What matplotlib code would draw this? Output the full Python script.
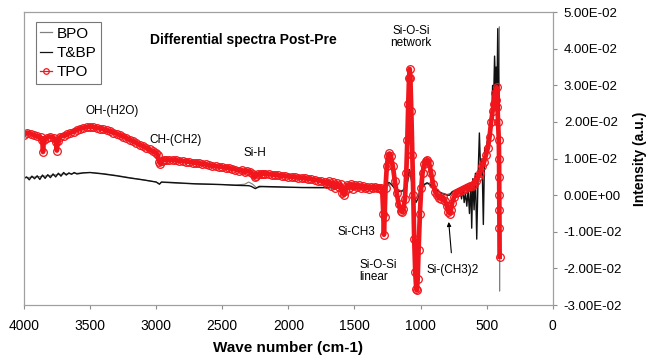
import matplotlib
matplotlib.use("Agg")
import matplotlib.pyplot as plt
from matplotlib.ticker import FuncFormatter, MultipleLocator

plt.rcParams['font.family'] = ['Liberation Sans', 'DejaVu Sans']

# ---------------- data ----------------
tpo_wn = [4000, 3975, 3950, 3925, 3900, 3875, 3862, 3856, 3850, 3825, 3800, 3775, 3757, 3751, 3745,
          3725, 3700, 3675, 3650, 3625, 3600, 3575, 3550, 3525, 3500, 3475, 3450, 3425, 3400, 3375,
          3350, 3325, 3300, 3275, 3250, 3225, 3200, 3175, 3150, 3125, 3100, 3075, 3050, 3025, 3000,
          2988, 2978, 2968, 2958, 2940, 2925, 2900, 2875, 2850, 2825, 2800, 2775, 2750, 2725, 2700,
          2675, 2650, 2625, 2600, 2575, 2550, 2525, 2500, 2475, 2450, 2425, 2400, 2375, 2350, 2330,
          2310, 2290, 2270, 2255, 2245, 2230, 2210, 2190, 2175, 2150, 2125, 2100, 2075, 2050, 2025,
          2000, 1975, 1950, 1925, 1900, 1875, 1850, 1825, 1800, 1775, 1750, 1725, 1710, 1695, 1680,
          1665, 1650, 1635, 1620, 1605, 1592, 1580, 1568, 1556, 1540, 1525, 1510, 1495, 1480, 1465,
          1450, 1435, 1420, 1405, 1390, 1375, 1360, 1345, 1330, 1315, 1300, 1290, 1282, 1277, 1272,
          1265, 1255, 1245, 1235, 1225, 1210, 1195, 1180, 1165, 1150, 1140, 1130, 1118, 1108, 1100,
          1093, 1087, 1082, 1077, 1070, 1062, 1055, 1048, 1040, 1033, 1028, 1022, 1015, 1005, 995,
          985, 972, 960, 948, 935, 920, 905, 890, 875, 860, 845, 830, 815, 800, 790,
          780, 770, 760, 745, 730, 715, 700, 685, 670, 655, 640, 625, 610, 595, 580,
          565, 550, 535, 520, 505, 490, 478, 466, 455, 445, 437, 430, 424, 418, 413,
          408, 406, 405, 404, 403.5, 403, 402]
tpo_val = [0.0165, 0.0171, 0.0168, 0.0164, 0.0161, 0.0158, 0.0152, 0.0118, 0.0150, 0.0157, 0.0160, 0.0157, 0.0145, 0.0122, 0.0147,
           0.0160, 0.0163, 0.0166, 0.0170, 0.0174, 0.0178, 0.0181, 0.0184, 0.0186, 0.0187, 0.0186, 0.0184, 0.0182, 0.0180, 0.0177,
           0.0175, 0.0171, 0.0168, 0.0164, 0.0160, 0.0156, 0.0152, 0.0147, 0.0143, 0.0138, 0.0134, 0.0129, 0.0125, 0.0120, 0.0116,
           0.0110, 0.0092, 0.0086, 0.0094, 0.0097, 0.0097, 0.0096, 0.0096, 0.0095, 0.0094, 0.0093, 0.0092, 0.0091, 0.0089, 0.0088,
           0.0087, 0.0085, 0.0084, 0.0082, 0.0080, 0.0079, 0.0078, 0.0077, 0.0075, 0.0074, 0.0072, 0.0070, 0.0067, 0.0068, 0.0064,
           0.0066, 0.0064, 0.0058, 0.0049, 0.0052, 0.0058, 0.0059, 0.0059, 0.0058, 0.0058, 0.0056, 0.0055, 0.0054, 0.0053, 0.0052,
           0.0051, 0.0050, 0.0049, 0.0048, 0.0047, 0.0046, 0.0045, 0.0043, 0.0042, 0.0040, 0.0038, 0.0035, 0.0031, 0.0038, 0.0026,
           0.0035, 0.0020, 0.0033, 0.0022, 0.0030, 0.0006, 0.0001, 0.0012, 0.0028, 0.0020, 0.0030, 0.0018, 0.0028, 0.0022, 0.0027,
           0.0021, 0.0025, 0.0019, 0.0023, 0.0018, 0.0022, 0.0020, 0.0022, 0.0019, 0.0021, 0.0020, 0.0015, -0.0050, -0.0108, -0.0060,
           0.0020, 0.0080, 0.0108, 0.0114, 0.0108, 0.0080, 0.0040, 0.0005, -0.0025, -0.0042, -0.0046, -0.0038, -0.0010, 0.0060, 0.0150,
           0.0250, 0.0320, 0.0345, 0.0320, 0.0230, 0.0110, 0.0000, -0.0120, -0.0210, -0.0255, -0.0260, -0.0230, -0.0150, -0.0050, 0.0020,
           0.0060, 0.0085, 0.0094, 0.0096, 0.0088, 0.0060, 0.0030, 0.0010, 0.0000, -0.0008, -0.0010, -0.0005, -0.0015, -0.0030, -0.0045,
           -0.0050, -0.0040, -0.0020, -0.0005, 0.0005, 0.0010, 0.0012, 0.0015, 0.0018, 0.0020, 0.0022, 0.0024, 0.0025, 0.0030, 0.0040,
           0.0050, 0.0060, 0.0080, 0.0090, 0.0110, 0.0130, 0.0160, 0.0200, 0.0230, 0.0250, 0.0280, 0.0260, 0.0295, 0.0240, 0.0200,
           0.0150, 0.0100, 0.0050, 0.0000, -0.0040, -0.0090, -0.0168]

tbp_wn = [4000, 3980, 3960, 3940, 3920, 3900, 3880, 3860, 3840, 3820, 3800, 3780, 3760, 3740, 3720,
          3700, 3680, 3660, 3640, 3620, 3600, 3550, 3500, 3450, 3400, 3300, 3200, 3100, 3000, 2975,
          2960, 2900, 2800, 2700, 2600, 2500, 2400, 2300, 2280, 2250, 2220, 2100, 2000, 1900, 1800,
          1700, 1600, 1500, 1400, 1300, 1280, 1260, 1240, 1220, 1200, 1160, 1130, 1100, 1085, 1075,
          1060, 1045, 1035, 1020, 1000, 970, 950, 930, 900, 870, 840, 800, 780, 760, 740,
          720, 700, 690, 680, 670, 660, 650, 640, 630, 620, 613, 605, 595, 585, 575,
          565, 555, 545, 535, 525, 515, 505, 495, 485, 475, 465, 455, 448, 440, 433,
          428, 422, 416, 410, 405]
tbp_val = [0.0046, 0.0050, 0.0042, 0.0052, 0.0045, 0.0053, 0.0043, 0.0055, 0.0046, 0.0056, 0.0048, 0.0058, 0.0050, 0.0060, 0.0052,
           0.0062, 0.0055, 0.0061, 0.0057, 0.0062, 0.0058, 0.0061, 0.0062, 0.0060, 0.0058, 0.0053, 0.0047, 0.0042, 0.0036, 0.0030,
           0.0036, 0.0035, 0.0033, 0.0031, 0.0030, 0.0029, 0.0027, 0.0026, 0.0024, 0.0018, 0.0024, 0.0023, 0.0022, 0.0021, 0.0021,
           0.0021, 0.0020, 0.0019, 0.0018, 0.0018, 0.0010, 0.0025, 0.0035, 0.0030, 0.0020, 0.0010, 0.0012, 0.0035, 0.0070, 0.0060,
           0.0020, -0.0005, -0.0020, -0.0010, 0.0015, 0.0030, 0.0034, 0.0030, 0.0020, 0.0012, 0.0005, 0.0000, 0.0000, 0.0010, 0.0012,
           0.0005, 0.0010, -0.0010, 0.0020, -0.0020, 0.0005, -0.0030, 0.0015, -0.0050, 0.0030, -0.0090, 0.0045, -0.0040, 0.0060, -0.0120,
           0.0050, 0.0170, 0.0060, 0.0100, -0.0080, 0.0130, 0.0110, 0.0150, 0.0140, 0.0200, 0.0180, 0.0300, 0.0250, 0.0380, 0.0290,
           0.0350, 0.0270, 0.0455, 0.0300, 0.0200]

bpo_wn = [4000, 3950, 3900, 3850, 3800, 3750, 3700, 3650, 3600, 3500, 3400, 3300, 3200, 3100, 3000,
          2975, 2960, 2900, 2800, 2700, 2600, 2500, 2400, 2330, 2300, 2270, 2240, 2200, 2100, 2000,
          1900, 1800, 1700, 1600, 1500, 1400, 1300, 1280, 1250, 1220, 1180, 1140, 1100, 1082, 1060,
          1040, 1010, 980, 950, 900, 850, 800, 750, 700, 650, 600, 560, 520, 480, 450,
          425, 410, 404, 402, 400]
bpo_val = [0.0047, 0.0049, 0.0050, 0.0052, 0.0054, 0.0056, 0.0058, 0.0059, 0.0060, 0.0062, 0.0059, 0.0054, 0.0048, 0.0042, 0.0036,
           0.0031, 0.0035, 0.0034, 0.0032, 0.0031, 0.0030, 0.0029, 0.0028, 0.0030, 0.0036, 0.0030, 0.0020, 0.0023, 0.0022, 0.0021,
           0.0021, 0.0020, 0.0020, 0.0020, 0.0019, 0.0018, 0.0018, 0.0012, 0.0030, 0.0028, 0.0015, 0.0012, 0.0030, 0.0060, 0.0020,
           -0.0015, 0.0010, 0.0025, 0.0032, 0.0020, 0.0008, 0.0002, 0.0008, 0.0006, 0.0005, 0.0030, 0.0060, 0.0100, 0.0160, 0.0250,
           0.0320, 0.0250, 0.0460, -0.0262, 0.0100]

x_ticks = [4000, 3500, 3000, 2500, 2000, 1500, 1000, 500, 0]

# ---------------- figure ----------------
fig = plt.figure(figsize=(6.48, 3.58), dpi=100)
ax = fig.add_axes([0.037, 0.148, 0.816, 0.818])

red = '#f0161c'
ax.plot(bpo_wn, bpo_val, color='#808080', lw=0.8, label='BPO')
ax.plot(tbp_wn, tbp_val, color='#111111', lw=1.0, label='T&BP')
ax.plot(tpo_wn, tpo_val, color=red, lw=3.4, marker='o', ms=5.5, mfc='none',
        mec=red, mew=0.9, label='TPO')

ax.set_xlim(4000, 0)
ax.set_ylim(-0.03, 0.05)
ax.set_xticks(x_ticks)
ax.yaxis.set_major_locator(MultipleLocator(0.01))
ax.yaxis.set_major_formatter(FuncFormatter(lambda v, p: '{:.2E}'.format(0.0 if abs(v) < 1e-12 else v)))
ax.yaxis.tick_right()
ax.yaxis.set_label_position('right')
ax.tick_params(axis='both', direction='out', length=3, width=0.8, color='#8c8c8c')
ax.tick_params(axis='x', labelsize=10, pad=7)
ax.tick_params(axis='y', labelsize=9.5, pad=5)
for s in ax.spines.values():
    s.set_color('#a0a0a0')
    s.set_linewidth(0.9)

ax.set_xlabel('Wave number (cm-1)', fontsize=11, fontweight='bold', labelpad=6)
ax.set_ylabel('Intensity (a.u.)', fontsize=10, fontweight='bold', labelpad=8, rotation=90)

leg = ax.legend(loc='upper left', bbox_to_anchor=(0.022, 0.966), fontsize=11, frameon=True,
                fancybox=False, handlelength=0.8, handletextpad=0.3, borderpad=0.3,
                labelspacing=0.35, borderaxespad=0)
leg.get_frame().set_edgecolor('#555555')
leg.get_frame().set_linewidth(0.8)
for h in leg.get_lines():
    h.set_linewidth(0.9)
    h.set_markersize(4)

ax.text(2337, 0.0423, 'Differential spectra Post-Pre', fontsize=10, fontweight='bold',
        ha='center', va='center')
ax.text(3335, 0.0229, 'OH-(H2O)', fontsize=8.5, ha='center', va='center')
ax.text(2851, 0.0152, 'CH-(CH2)', fontsize=8.5, ha='center', va='center')
ax.text(2253, 0.0114, 'Si-H', fontsize=8.5, ha='center', va='center')
ax.text(1074, 0.0432, 'Si-O-Si\nnetwork', fontsize=8.5, ha='center', va='center', linespacing=1.05)
ax.text(1482, -0.0100, 'Si-CH3', fontsize=8.5, ha='center', va='center')
ax.text(1460, -0.0207, 'Si-O-Si\nlinear', fontsize=8.5, ha='left', va='center', linespacing=1.05)
ax.annotate('Si-(CH3)2', xy=(787, -0.0073), xytext=(756, -0.0204), fontsize=8.5,
            ha='center', va='center',
            arrowprops=dict(arrowstyle='-|>', color='black', lw=0.8, mutation_scale=6,
                            shrinkA=6, shrinkB=0))

fig.savefig('out.png', dpi=100)
